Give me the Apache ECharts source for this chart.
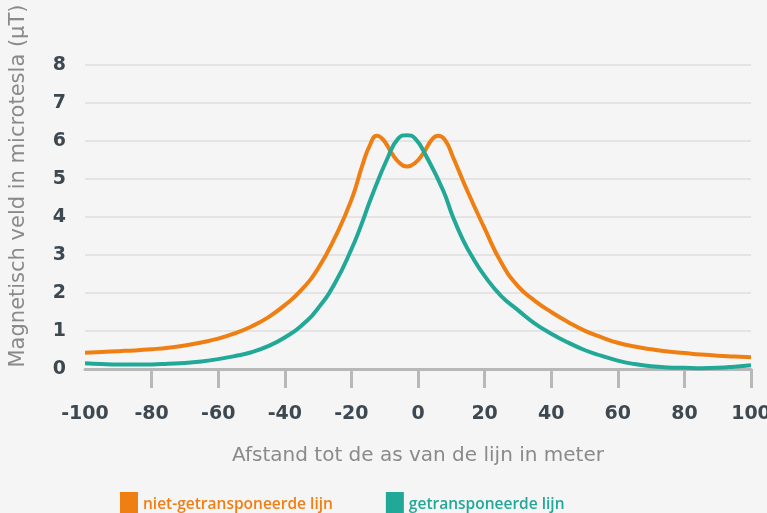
<!DOCTYPE html>
<html>
<head>
<meta charset="utf-8">
<script src="https://cdn.jsdelivr.net/npm/echarts@6/dist/echarts.min.js"></script>
<style>
  html, body { margin: 0; padding: 0; background: #f5f5f5; }
  #main { width: 767px; height: 513px; }
</style>
</head>
<body>
<div id="main"></div>
<script>
// afstand tot de as (m) en veldsterkte (µT)
const orangeX = [-100, -95, -90, -85, -80, -75, -70, -65, -60, -55, -50, -45, -40, -35, -30, -25, -20, -16.5, -14.4, -12.4, -10.4, -7.9, -5.5, -3.2, -0.9, 1.6, 4.1, 6, 8.1, 10.5, 15, 20, 25, 30, 35, 40, 45, 50, 55, 60, 65, 70, 75, 80, 85, 90, 95, 100];
const orangeY = [0.43, 0.45, 0.47, 0.49, 0.52, 0.56, 0.62, 0.7, 0.8, 0.94, 1.12, 1.36, 1.68, 2.08, 2.65, 3.45, 4.45, 5.42, 5.9, 6.14, 6.03, 5.68, 5.42, 5.33, 5.42, 5.68, 6.03, 6.14, 6.03, 5.58, 4.65, 3.7, 2.8, 2.18, 1.8, 1.5, 1.24, 1.01, 0.84, 0.69, 0.59, 0.52, 0.46, 0.42, 0.38, 0.35, 0.33, 0.31];

const tealX = [-100, -95, -90, -85, -80, -75, -70, -65, -60, -55, -50, -45, -40, -35, -30, -25, -20, -17, -14, -9, -5.9, -3.4, -0.9, 2.6, 7.5, 10.5, 13.5, 16.5, 20, 25, 30, 35, 40, 45, 50, 55, 60, 65, 70, 75, 80, 85, 90, 95, 100];
const tealY = [0.15, 0.13, 0.12, 0.12, 0.12, 0.14, 0.16, 0.2, 0.26, 0.34, 0.44, 0.6, 0.83, 1.14, 1.6, 2.25, 3.15, 3.8, 4.52, 5.58, 6.07, 6.15, 6.07, 5.58, 4.71, 4.0, 3.4, 2.92, 2.45, 1.92, 1.55, 1.2, 0.93, 0.7, 0.5, 0.35, 0.22, 0.13, 0.07, 0.04, 0.03, 0.02, 0.03, 0.06, 0.1];

const xTicks = [-100, -80, -60, -40, -20, 0, 20, 40, 60, 80, 100];
const xTickMarks = [-80, -60, -40, -20, 0, 20, 40, 60, 80, 100];

const seriesNames = ['niet-getransponeerde lijn', 'getransponeerde lijn'];
const colors = ['#f07f13', '#21a897'];

const pairs = (xs, ys) => xs.map((x, i) => [x, ys[i]]);

const chart = echarts.init(document.getElementById('main'));

const labelFont = {
  fontFamily: 'DejaVu Sans',
  fontWeight: 'bold',
  fontSize: 19,
  color: '#3d4850',
};

chart.setOption({
  backgroundColor: '#f5f5f5',
  animation: false,
  grid: {
    left: 85,
    right: 16,
    top: 65,
    bottom: 144,
    outerBoundsMode: 'none',
  },
  legend: {
    top: 492,
    left: 120,
    padding: 0,
    icon: 'rect',
    itemWidth: 18,
    itemHeight: 26,
    itemGap: 53,
    textStyle: {
      fontFamily: 'Open Sans',
      fontWeight: 600,
      fontSize: 15.5,
    },
    data: seriesNames.map((n, i) => ({ name: n, textStyle: { color: colors[i] } })),
  },
  xAxis: {
    type: 'value',
    min: -100,
    max: 100,
    interval: 20,
    name: 'Afstand tot de as van de lijn in meter',
    nameLocation: 'middle',
    nameGap: 77,
    nameTextStyle: {
      fontFamily: 'DejaVu Sans',
      fontSize: 20,
      color: '#8a8a8a',
    },
    axisLine: { lineStyle: { color: '#b8b8b8', width: 3 } },
    axisTick: {
      show: true,
      length: 19,
      customValues: xTickMarks,
      lineStyle: { color: '#b8b8b8', width: 3 },
    },
    axisLabel: Object.assign({ margin: 36, customValues: xTicks }, labelFont),
    splitLine: { show: false },
  },
  yAxis: {
    type: 'value',
    min: 0,
    max: 8,
    interval: 1,
    name: 'Magnetisch veld in microtesla (µT)',
    nameLocation: 'middle',
    nameRotate: 90,
    nameGap: 56,
    nameTextStyle: {
      fontFamily: 'DejaVu Sans',
      fontSize: 21,
      color: '#8a8a8a',
      padding: [0, 0, 0, 62],
    },
    axisLine: { show: false },
    axisTick: { show: false },
    axisLabel: Object.assign({ margin: 19 }, labelFont),
    splitLine: { lineStyle: { color: '#dedede', width: 1.5 } },
  },
  series: [
    {
      name: seriesNames[0],
      type: 'line',
      smooth: true,
      showSymbol: false,
      data: pairs(orangeX, orangeY),
      itemStyle: { color: colors[0] },
      lineStyle: { color: colors[0], width: 4 },
    },
    {
      name: seriesNames[1],
      type: 'line',
      smooth: true,
      showSymbol: false,
      data: pairs(tealX, tealY),
      itemStyle: { color: colors[1] },
      lineStyle: { color: colors[1], width: 4 },
    },
  ],
});
</script>
</body>
</html>
